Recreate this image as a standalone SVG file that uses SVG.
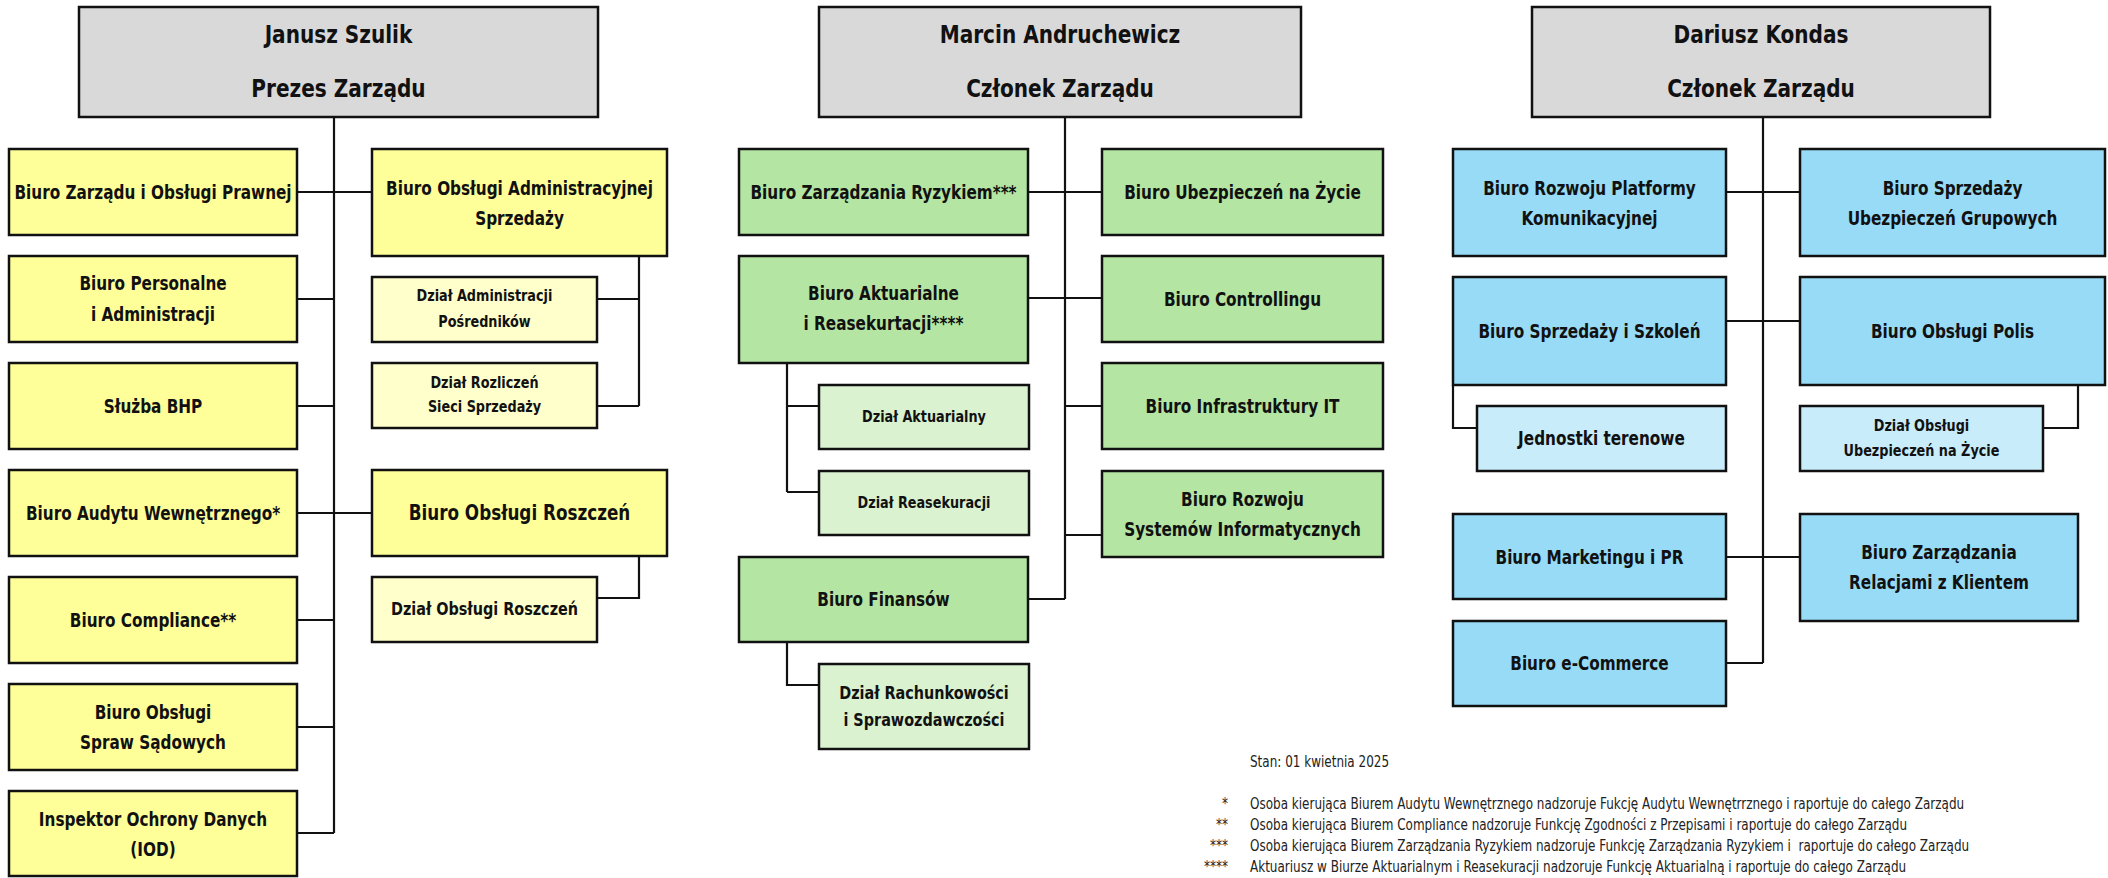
<svg xmlns="http://www.w3.org/2000/svg" width="2108" height="878" viewBox="0 0 2108 878">
<style>
text{font-family:"Liberation Sans Narrow","DejaVu Sans Condensed","Roboto Condensed","Liberation Sans",sans-serif;font-weight:bold;fill:#111;text-anchor:middle;dominant-baseline:central;transform-box:fill-box;transform-origin:center}
.hd{fill:#d9d9d9;stroke:#111;stroke-width:2.5}
.y{fill:#ffff99;stroke:#111;stroke-width:2.5}
.yl{fill:#ffffcc;stroke:#111;stroke-width:2.5}
.g{fill:#b4e5a2;stroke:#111;stroke-width:2.5}
.gl{fill:#daf2d0;stroke:#111;stroke-width:2.5}
.b{fill:#97dbf6;stroke:#111;stroke-width:2.5}
.bl{fill:#c8ecfa;stroke:#111;stroke-width:2.5}
.t1{font-size:24px;transform:scaleX(0.93)}
.t{font-size:19.5px;transform:scaleX(0.87)}
.ts{font-size:15.5px;transform:scaleX(0.92)}
.tm{font-size:18px;transform:scaleX(0.89)}
.tl{font-size:21px;transform:scaleX(0.89)}
.fn{font-size:15px;font-weight:normal;text-anchor:start;fill:#222;transform-origin:left center;transform:scaleX(0.89)}
.fa{font-size:15px;font-weight:normal;text-anchor:end;fill:#222;transform-origin:right center;transform:scaleX(0.89)}
#connectors path{fill:none;stroke:#111;stroke-width:2.2}
</style>
<g id="connectors">
<path d="M334 117V833M297 192H372M297 299H334M297 406H334M297 513H372M297 620H334M297 727H334M297 833H334"/>
<path d="M639 256V406M597 299H639M597 406H639M639 556V598H597"/>
<path d="M1065 117V599M1028 192H1102M1028 298H1102M1065 406H1102M1065 535H1102M1028 599H1065"/>
<path d="M787 363V492M787 406H819M787 492H819M787 642V685H819"/>
<path d="M1763 117V663M1726 192H1800M1726 321H1800M1726 557H1800M1726 663H1763"/>
<path d="M1453 385V428H1477M2078 385V428H2043"/>
</g>
<g id="n-szulik"><rect class="hd" x="79" y="7" width="519" height="110"/><text class="t1" x="338.5" y="34">Janusz Szulik</text><text class="t1" x="338.5" y="88">Prezes Zarządu</text></g>
<g id="n-andruchewicz"><rect class="hd" x="819" y="7" width="482" height="110"/><text class="t1" x="1060" y="34">Marcin Andruchewicz</text><text class="t1" x="1060" y="88">Członek Zarządu</text></g>
<g id="n-kondas"><rect class="hd" x="1532" y="7" width="458" height="110"/><text class="t1" x="1761" y="34">Dariusz Kondas</text><text class="t1" x="1761" y="88">Członek Zarządu</text></g>

<g id="n-zarzadu"><rect class="y" x="9" y="149" width="288" height="86"/><text class="t" x="153" y="192">Biuro Zarządu i Obsługi Prawnej</text></g>
<g id="n-personalne"><rect class="y" x="9" y="256" width="288" height="86"/><text class="t" x="153" y="283">Biuro Personalne</text><text class="t" x="153" y="314">i Administracji</text></g>
<g id="n-bhp"><rect class="y" x="9" y="363" width="288" height="86"/><text class="t" x="153" y="406">Służba BHP</text></g>
<g id="n-audyt"><rect class="y" x="9" y="470" width="288" height="86"/><text class="t" x="153" y="513">Biuro Audytu Wewnętrznego*</text></g>
<g id="n-compliance"><rect class="y" x="9" y="577" width="288" height="86"/><text class="t" x="153" y="620">Biuro Compliance**</text></g>
<g id="n-sadowe"><rect class="y" x="9" y="684" width="288" height="86"/><text class="t" x="153" y="712">Biuro Obsługi</text><text class="t" x="153" y="742">Spraw Sądowych</text></g>
<g id="n-iod"><rect class="y" x="9" y="791" width="288" height="85"/><text class="t" x="153" y="819">Inspektor Ochrony Danych</text><text class="t" x="153" y="849">(IOD)</text></g>

<g id="n-admsprzedazy"><rect class="y" x="372" y="149" width="295" height="107"/><text class="t" x="519.5" y="188">Biuro Obsługi Administracyjnej</text><text class="t" x="519.5" y="218">Sprzedaży</text></g>
<g id="n-posrednikow"><rect class="yl" x="372" y="277" width="225" height="65"/><text class="ts" x="484.5" y="296">Dział Administracji</text><text class="ts" x="484.5" y="322">Pośredników</text></g>
<g id="n-rozliczen"><rect class="yl" x="372" y="363" width="225" height="65"/><text class="ts" x="484.5" y="383">Dział Rozliczeń</text><text class="ts" x="484.5" y="407">Sieci Sprzedaży</text></g>
<g id="n-roszczen"><rect class="y" x="372" y="470" width="295" height="86"/><text class="tl" x="519.5" y="513">Biuro Obsługi Roszczeń</text></g>
<g id="n-dz-roszczen"><rect class="yl" x="372" y="577" width="225" height="65"/><text class="tm" x="484.5" y="609">Dział Obsługi Roszczeń</text></g>

<g id="n-ryzyko"><rect class="g" x="739" y="149" width="289" height="86"/><text class="t" x="883.5" y="192">Biuro Zarządzania Ryzykiem***</text></g>
<g id="n-aktuarialne"><rect class="g" x="739" y="256" width="289" height="107"/><text class="t" x="883.5" y="293">Biuro Aktuarialne</text><text class="t" x="883.5" y="323">i Reasekurtacji****</text></g>
<g id="n-dz-aktuarialny"><rect class="gl" x="819" y="385" width="210" height="64"/><text class="ts" x="924" y="417">Dział Aktuarialny</text></g>
<g id="n-dz-reasekuracji"><rect class="gl" x="819" y="471" width="210" height="64"/><text class="ts" x="924" y="503">Dział Reasekuracji</text></g>
<g id="n-finansow"><rect class="g" x="739" y="557" width="289" height="85"/><text class="t" x="883.5" y="599">Biuro Finansów</text></g>
<g id="n-rachunkowosci"><rect class="gl" x="819" y="664" width="210" height="85"/><text class="tm" x="924" y="693">Dział Rachunkowości</text><text class="tm" x="924" y="720">i Sprawozdawczości</text></g>
<g id="n-zycie"><rect class="g" x="1102" y="149" width="281" height="86"/><text class="t" x="1242.5" y="192">Biuro Ubezpieczeń na Życie</text></g>
<g id="n-controlling"><rect class="g" x="1102" y="256" width="281" height="86"/><text class="t" x="1242.5" y="299">Biuro Controllingu</text></g>
<g id="n-infra"><rect class="g" x="1102" y="363" width="281" height="86"/><text class="t" x="1242.5" y="406">Biuro Infrastruktury IT</text></g>
<g id="n-systemow"><rect class="g" x="1102" y="471" width="281" height="86"/><text class="t" x="1242.5" y="499">Biuro Rozwoju</text><text class="t" x="1242.5" y="529">Systemów Informatycznych</text></g>

<g id="n-platformy"><rect class="b" x="1453" y="149" width="273" height="107"/><text class="t" x="1589.5" y="188">Biuro Rozwoju Platformy</text><text class="t" x="1589.5" y="218">Komunikacyjnej</text></g>
<g id="n-grupowych"><rect class="b" x="1800" y="149" width="305" height="107"/><text class="t" x="1952.5" y="188">Biuro Sprzedaży</text><text class="t" x="1952.5" y="218">Ubezpieczeń Grupowych</text></g>
<g id="n-szkolen"><rect class="b" x="1453" y="277" width="273" height="108"/><text class="t" x="1589.5" y="331">Biuro Sprzedaży i Szkoleń</text></g>
<g id="n-polis"><rect class="b" x="1800" y="277" width="305" height="108"/><text class="t" x="1952.5" y="331">Biuro Obsługi Polis</text></g>
<g id="n-terenowe"><rect class="bl" x="1477" y="406" width="249" height="65"/><text class="t" x="1601.5" y="438">Jednostki terenowe</text></g>
<g id="n-dz-zycie"><rect class="bl" x="1800" y="406" width="243" height="65"/><text class="ts" x="1921.5" y="426">Dział Obsługi</text><text class="ts" x="1921.5" y="451">Ubezpieczeń na Życie</text></g>
<g id="n-marketing"><rect class="b" x="1453" y="514" width="273" height="85"/><text class="t" x="1589.5" y="557">Biuro Marketingu i PR</text></g>
<g id="n-relacje"><rect class="b" x="1800" y="514" width="278" height="107"/><text class="t" x="1939" y="552">Biuro Zarządzania</text><text class="t" x="1939" y="582">Relacjami z Klientem</text></g>
<g id="n-ecommerce"><rect class="b" x="1453" y="621" width="273" height="85"/><text class="t" x="1589.5" y="663">Biuro e-Commerce</text></g>

<g id="notes">
<text class="fn" x="1250" y="762">Stan: 01 kwietnia 2025</text>
<text class="fa" x="1228" y="804">*</text><text class="fn" x="1250" y="804">Osoba kierująca Biurem Audytu Wewnętrznego nadzoruje Fukcję Audytu Wewnętrrznego i raportuje do całego Zarządu</text>
<text class="fa" x="1228" y="825">**</text><text class="fn" x="1250" y="825">Osoba kierująca Biurem Compliance nadzoruje Funkcję Zgodności z Przepisami i raportuje do całego Zarządu</text>
<text class="fa" x="1228" y="846">***</text><text class="fn" x="1250" y="846" xml:space="preserve">Osoba kierująca Biurem Zarządzania Ryzykiem nadzoruje Funkcję Zarządzania Ryzykiem i  raportuje do całego Zarządu</text>
<text class="fa" x="1228" y="867">****</text><text class="fn" x="1250" y="867">Aktuariusz w Biurze Aktuarialnym i Reasekuracji nadzoruje Funkcję Aktuarialną i raportuje do całego Zarządu</text>
</g>
</svg>
